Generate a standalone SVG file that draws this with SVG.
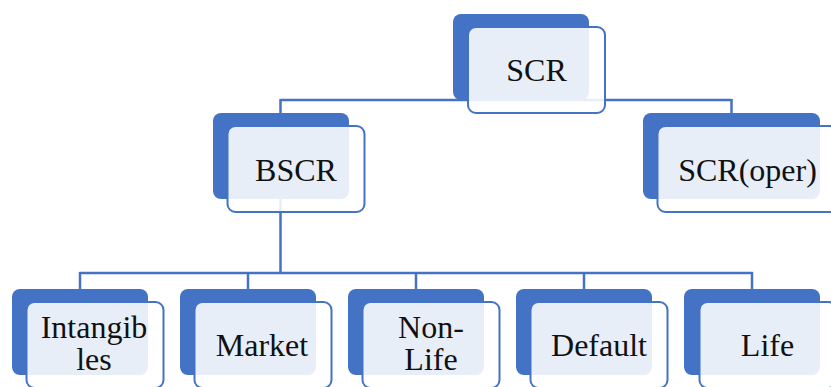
<svg xmlns="http://www.w3.org/2000/svg" width="831" height="387" viewBox="0 0 831 387">
<style>
.back{fill:#4472C4;}
.front{fill:#FFFFFF;fill-opacity:0.88;stroke:#4472C4;stroke-width:2;}
.conn{fill:none;stroke:#4472C4;stroke-width:2.5;}
.lbl{font-family:"Liberation Serif","Times New Roman",serif;font-size:32px;fill:#111;text-anchor:middle;}
</style>
<rect width="831" height="387" fill="#FFFFFF"/>
<g id="connectors">
<path class="conn" d="M280.5,100 H731.5 M280.5,99 V113 M731.5,99 V113"/>
<path class="conn" d="M280.5,199 V273 M79.5,273 H752.5 M80,272 V289 M248,272 V289 M416,272 V289 M584,272 V289 M752,272 V289"/>
</g>
<g id="node-scr">
<rect class="back" x="453" y="14" width="136" height="86" rx="8"/>
<rect class="front" x="468" y="27" width="137" height="86" rx="8"/>
<text class="lbl" x="536.5" y="80.5">SCR</text>
</g>
<g id="node-bscr">
<rect class="back" x="213" y="113" width="136" height="86" rx="8"/>
<rect class="front" x="227.5" y="126" width="137" height="86" rx="8"/>
<text class="lbl" x="296" y="180.5">BSCR</text>
</g>
<g id="node-scroper">
<rect class="back" x="643" y="113" width="177" height="86" rx="8"/>
<rect class="front" x="657.5" y="126" width="180" height="86" rx="8"/>
<text class="lbl" x="747.5" y="180.5">SCR(oper)</text>
</g>
<g id="node-intangibles">
<rect class="back" x="12" y="289" width="136" height="86" rx="8"/>
<rect class="front" x="26.5" y="302" width="137" height="86" rx="8"/>
<text class="lbl" x="94" y="338">Intangib<tspan x="94" dy="32">les</tspan></text>
</g>
<g id="node-market">
<rect class="back" x="180" y="289" width="136" height="86" rx="8"/>
<rect class="front" x="194.5" y="302" width="137" height="86" rx="8"/>
<text class="lbl" x="262" y="356">Market</text>
</g>
<g id="node-nonlife">
<rect class="back" x="348" y="289" width="136" height="86" rx="8"/>
<rect class="front" x="362.5" y="302" width="137" height="86" rx="8"/>
<text class="lbl" x="431" y="338">Non-<tspan x="431" dy="32">Life</tspan></text>
</g>
<g id="node-default">
<rect class="back" x="516" y="289" width="136" height="86" rx="8"/>
<rect class="front" x="530.5" y="302" width="137" height="86" rx="8"/>
<text class="lbl" x="599" y="356">Default</text>
</g>
<g id="node-life">
<rect class="back" x="684" y="289" width="136" height="86" rx="8"/>
<rect class="front" x="699.5" y="302" width="137" height="86" rx="8"/>
<text class="lbl" x="767.5" y="356">Life</text>
</g>
</svg>
